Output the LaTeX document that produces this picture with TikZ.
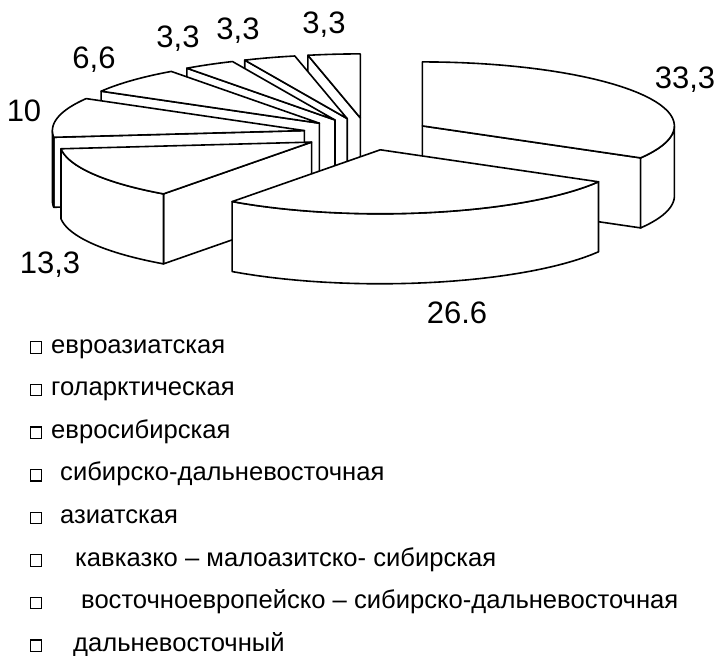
\documentclass[tikz,border=0pt]{standalone}
\usepackage{fontspec}
\setmainfont{Liberation Sans}
\tikzset{
  pie/.style={fill=white,draw=black,line width=1.6pt,line join=round},
  lbl/.style={font=\fontsize{31}{31}\selectfont,inner sep=0pt,anchor=base},
  leg/.style={font=\fontsize{25.6}{25.6}\selectfont,inner sep=0pt,anchor=base west},
  legkey/.style={draw=black,fill=white,line width=1.2pt,minimum size=11.5pt,inner sep=0pt}
}
% apex x, apex y, angle
\newcommand\pieCut[3]{\filldraw[pie] (#1,#2) -- ({#1+252*sin(#3)},{#2-64*cos(#3)}) -- ({#1+252*sin(#3)},{#2-64*cos(#3)+70}) -- (#1,{#2+70}) -- cycle;}
% apex x, apex y, from angle, to angle
\newcommand\pieWall[4]{\filldraw[pie] plot[domain=#3:#4,samples=30] ({#1+252*sin(\x)},{#2-64*cos(\x)}) -- plot[domain=#4:#3,samples=30] ({#1+252*sin(\x)},{#2-64*cos(\x)+70}) -- cycle;}
\newcommand\pieTop[4]{\filldraw[pie] (#1,#2) -- plot[domain=#3:#4,samples=40] ({#1+252*sin(\x)},{#2-64*cos(\x)}) -- cycle;}
\begin{document}
\begin{tikzpicture}[x=1pt,y=-1pt]
\path[use as bounding box] (0,0) rectangle (716,656);
% slice 3,3 (348-360)
\pieCut{360.3}{117.9}{348}
\pieTop{360.3}{117.9}{348}{360}
% slice 3,3 (336-348)
\pieCut{347.2}{118.6}{336}
\pieTop{347.2}{118.6}{336}{348}
% slice 3,3 (324-336)
\pieCut{335.0}{120.0}{324}
\pieTop{335.0}{120.0}{324}{336}
% slice 6,6 (300-324)
\pieCut{319.4}{123.2}{300}
\pieTop{319.4}{123.2}{300}{324}
% slice 33,3 (0-120)
\pieCut{422.4}{125.9}{0}
\pieCut{422.4}{125.9}{120}
\pieWall{422.4}{125.9}{90}{120}
\pieTop{422.4}{125.9}{0}{120}
% slice 10 (264-300)
\pieCut{304.4}{130.6}{264}
\pieWall{304.4}{130.6}{264}{270}
\pieTop{304.4}{130.6}{264}{300}
% slice 13,3 (216-264)
\pieCut{311.6}{142.1}{216}
\pieWall{311.6}{142.1}{216}{264}
\pieTop{311.6}{142.1}{216}{264}
% slice 26,6 (120-216)
\pieWall{380.3}{149.8}{120}{216}
\pieTop{380.3}{149.8}{120}{216}
% value labels
\node[lbl] (v1) at (685,88) {33,3};
\node[lbl] (v2) at (457,323) {26.6};
\node[lbl] (v3) at (50,273) {13,3};
\node[lbl] (v4) at (24,121) {10};
\node[lbl] (v5) at (94,68) {6,6};
\node[lbl] (v6) at (178,47) {3,3};
\node[lbl] (v7) at (238,39) {3,3};
\node[lbl] (v8) at (324,33) {3,3};
% legend
\node[legkey] (k1) at (36,347.5) {};
\node[legkey] (k2) at (36,390.1) {};
\node[legkey] (k3) at (36,432.7) {};
\node[legkey] (k4) at (36,475.3) {};
\node[legkey] (k5) at (36,517.9) {};
\node[legkey] (k6) at (36,560.5) {};
\node[legkey] (k7) at (36,603.1) {};
\node[legkey] (k8) at (36,645.7) {};
\node[leg] (t1) at (51,353) {евроазиатская};
\node[leg] (t2) at (51,395.6) {голарктическая};
\node[leg] (t3) at (51,438.2) {евросибирская};
\node[leg] (t4) at (60,480.8) {сибирско-дальневосточная};
\node[leg] (t5) at (60,523.4) {азиатская};
\node[leg] (t6) at (75,566) {кавказко – малоазитско- сибирская};
\node[leg] (t7) at (81,608.6) {восточноевропейско – сибирско-дальневосточная};
\node[leg] (t8) at (73,651.2) {дальневосточный};
\end{tikzpicture}
\end{document}
